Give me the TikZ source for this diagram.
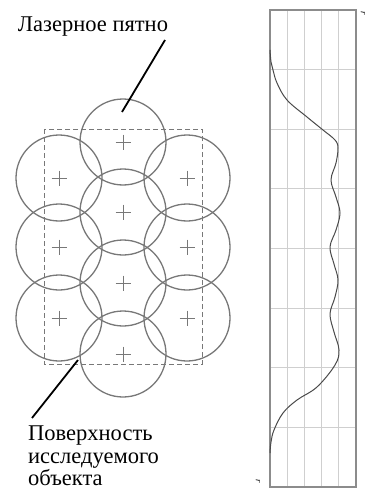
\documentclass[tikz,border=0pt]{standalone}
\usepackage{fontspec}
\setmainfont{Liberation Serif}
\usetikzlibrary{calc}
\definecolor{spotgray}{HTML}{787878}
\definecolor{framegray}{HTML}{8C8C8C}
\definecolor{gridgray}{HTML}{CFCFCF}
\definecolor{curvegray}{HTML}{4A4A4A}
\begin{document}
\begin{tikzpicture}[x=1pt,y=-1pt,
  spot/.style={draw=spotgray, line width=1.3pt, circle, minimum size=86pt, inner sep=0pt},
  crossmark/.style={draw=spotgray, line width=1pt},
  surface/.style={draw=spotgray, line width=1pt, dash pattern=on 5pt off 3pt},
  leader/.style={draw=black, line width=1.8pt},
  lbl/.style={font=\fontsize{22.5}{22.5}\selectfont, inner sep=0pt, align=left},
  axlbl/.style={font=\fontsize{9}{9}\selectfont\itshape, inner sep=0pt, rotate=-90},
  frame/.style={draw=framegray, line width=1.5pt},
  grid/.style={draw=gridgray, line width=0.9pt},
  profile/.style={draw=curvegray, line width=1pt}]
\useasboundingbox (0,0) rectangle (369,492);

% laser spots
\foreach \n/\x/\y in {c1/123/142, c2/123/212, c3/123/283, c4/123/354,
                      l1/59/178, l2/59/247, l3/59/318,
                      r1/187/178, r2/187/247, r3/187/318} {
  \node[spot] (\n) at (\x,\y) {};
  \draw[crossmark] ($(\n.center)+(-7.5,0)$) -- ($(\n.center)+(7.5,0)$)
                   ($(\n.center)+(0,-7.5)$) -- ($(\n.center)+(0,7.5)$);
}

% surface rectangle
\draw[surface] (44,129) rectangle (202,364);

% labels
\node[lbl] (laser) at (93,27) {Лазерное пятно};
\coordinate (lt) at (165,40);
\coordinate (lb) at (122,112);
\draw[leader] (lt) -- (lb);

\node[lbl, anchor=north west] (surf) at (28,426) {Поверхность\\исследуемого\\объекта};
\coordinate (st) at (78,360);
\coordinate (sb) at (32,418);
\draw[leader] (st) -- (sb);

% profile plot
\foreach \k in {1,...,4} \draw[grid] (270+17.2*\k,10) -- (270+17.2*\k,487);
\foreach \k in {1,...,7} \draw[grid] (270,10+59.625*\k) -- (356,10+59.625*\k);
\draw[frame] (270,10) rectangle (356,487);

\draw[profile] plot[smooth, tension=0.6] coordinates {
 (270,50) (271,62) (273,70) (277,83) (287,100) (307,117) (323,130) (335,140) (338,148)
 (336,163) (331,180) (336,197) (340,213) (336,230) (330,247) (334,264) (338,280)
 (335,297) (330,314) (334,332) (339,350) (335,365) (317,387) (297,400) (283,413)
 (274,430) (271,442) (270,453)};

\node[axlbl] (rtop) at (363,13) {r};
\node[axlbl] (rbot) at (258,481) {r};
\end{tikzpicture}
\end{document}
